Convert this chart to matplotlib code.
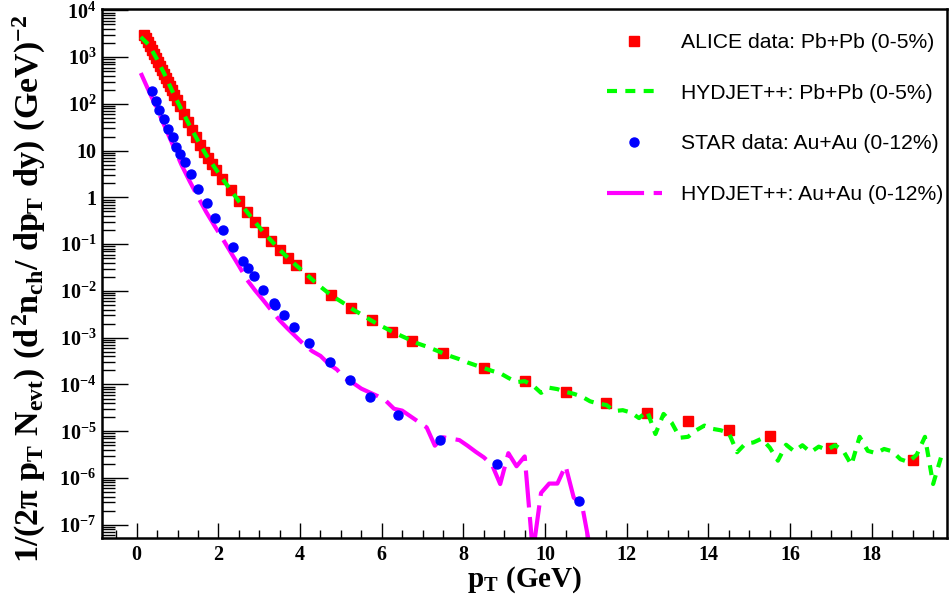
import numpy as np
import matplotlib
matplotlib.use("Agg")
import matplotlib.pyplot as plt
from matplotlib.ticker import LogLocator, MultipleLocator, FuncFormatter, FixedLocator

plt.rcParams["font.family"] = "Liberation Serif"
plt.rcParams["font.weight"] = "bold"
plt.rcParams["mathtext.fontset"] = "custom"
plt.rcParams["mathtext.rm"] = "Liberation Serif:bold"
plt.rcParams["mathtext.it"] = "Liberation Serif:bold"
plt.rcParams["mathtext.bf"] = "Liberation Serif:bold"

# ALICE Pb+Pb (0-5%) data, pT bin centres (GeV) and log10 of the yield
alice_pt = [0.175, 0.225, 0.275, 0.325, 0.375, 0.425, 0.475, 0.525, 0.575,
            0.625, 0.675, 0.725, 0.775, 0.825, 0.875, 0.925, 0.975,
            1.05, 1.15, 1.25, 1.35, 1.45, 1.55, 1.65, 1.75, 1.85, 1.95,
            2.1, 2.3, 2.5, 2.7, 2.9, 3.1, 3.3, 3.5, 3.7, 3.9,
            4.25, 4.75, 5.25, 5.75, 6.25, 6.75,
            7.5, 8.5, 9.5, 10.5, 11.5, 12.5, 13.5, 14.5, 15.5, 17.0, 19.0]
alice_log10 = [3.47, 3.40, 3.32, 3.24, 3.16, 3.07, 2.99, 2.90, 2.82,
               2.73, 2.64, 2.55, 2.47, 2.38, 2.29, 2.20, 2.09,
               1.96, 1.79, 1.62, 1.45, 1.29, 1.13, 0.98, 0.84, 0.71, 0.59,
               0.40, 0.16, -0.08, -0.31, -0.53, -0.74, -0.93, -1.12, -1.29, -1.45,
               -1.73, -2.08, -2.37, -2.63, -2.87, -3.07,
               -3.33, -3.65, -3.92, -4.17, -4.39, -4.62, -4.79, -4.97, -5.11, -5.36, -5.61]

# STAR Au+Au (0-12%) data
star_pt = [0.37, 0.47, 0.55, 0.67, 0.77, 0.88, 0.96, 1.06, 1.18, 1.32,
           1.51, 1.71, 1.92, 2.12, 2.35, 2.61, 2.73, 2.86, 3.10, 3.35,
           3.39, 3.61, 3.86, 4.23, 4.74, 5.22, 5.72, 6.40, 7.43, 8.81, 10.84]
star_log10 = [2.28, 2.07, 1.87, 1.67, 1.47, 1.29, 1.08, 0.92, 0.75, 0.51,
              0.17, -0.13, -0.43, -0.70, -1.05, -1.37, -1.51, -1.69, -1.97, -2.25,
              -2.31, -2.52, -2.78, -3.12, -3.52, -3.90, -4.27, -4.66, -5.18, -5.70, -6.49]

# HYDJET++ histograms, 0.2 GeV bins
hyd_pb_pt = np.round(np.arange(100) * 0.2 + 0.1, 2)
hyd_pb_log10 = [3.43, 3.26, 2.95, 2.60, 2.22, 1.87, 1.53, 1.21, 0.91, 0.65,
                0.40, 0.16, -0.08, -0.31, -0.53, -0.74, -0.93, -1.12, -1.29, -1.45,
                -1.60, -1.76, -1.91, -2.05, -2.17, -2.28, -2.40, -2.50, -2.61, -2.71,
                -2.80, -2.89, -2.97, -3.05, -3.13, -3.19, -3.26, -3.33, -3.40, -3.46,
                -3.53, -3.59, -3.65, -3.71, -3.76, -3.86, -3.95, -3.93, -4.02, -4.18,
                -4.07, -4.10, -4.16, -4.20, -4.26, -4.36, -4.41, -4.44, -4.57, -4.55,
                -4.60, -4.72, -4.57, -5.06, -4.63, -4.82, -5.14, -5.12, -4.98, -4.88,
                -4.95, -4.98, -5.04, -5.45, -5.27, -5.24, -5.16, -5.35, -5.63, -5.29,
                -5.43, -5.30, -5.45, -5.33, -5.40, -5.30, -5.42, -5.72, -5.12, -5.42,
                -5.47, -5.38, -5.43, -5.60, -5.66, -5.50, -5.12, -6.13, -5.54, -5.62]

hyd_au_pt = np.round(np.arange(56) * 0.2 + 0.1, 2)
hyd_au_log10 = [2.66, 2.27, 1.89, 1.49, 1.09, 0.69, 0.34, 0.01, -0.31, -0.60,
                -0.88, -1.17, -1.46, -1.76, -1.99, -2.20, -2.42, -2.63, -2.81, -2.98,
                -3.15, -3.29, -3.39, -3.56, -3.68, -3.87, -3.97, -4.09, -4.17, -4.25,
                -4.35, -4.52, -4.56, -4.68, -4.80, -4.92, -5.31, -5.13, -5.16, -5.19,
                -5.31, -5.44, -5.56, -5.72, -6.13, -5.47, -5.75, -5.54, -7.60, -6.32,
                -6.12, -6.12, -5.74, -6.42, -6.56, -7.50]

labels = ["ALICE data: Pb+Pb (0-5%)", "HYDJET++: Pb+Pb (0-5%)",
          "STAR data: Au+Au (0-12%)", "HYDJET++: Au+Au (0-12%)"]
y_decades = list(range(-7, 5))

fig = plt.figure(figsize=(9.49, 6.06), dpi=100)
ax = fig.add_axes([102 / 949, 1 - 538 / 606, 845 / 949, 529 / 606])

h_alice, = ax.plot(alice_pt, 10.0 ** np.array(alice_log10), "s", color="#ff0000",
                   ms=6.5, mec="#ff0000", zorder=2)
h_pb, = ax.plot(hyd_pb_pt, 10.0 ** np.array(hyd_pb_log10), color="#00ff00",
                lw=3, dashes=(2.4, 2.0), zorder=3)
h_au, = ax.plot(hyd_au_pt, 10.0 ** np.array(hyd_au_log10), color="#ff00ff",
                lw=3, dashes=(8.9, 2.3), zorder=2.5)
h_star, = ax.plot(star_pt, 10.0 ** np.array(star_log10), "o", color="#0000ff",
                  ms=6.5, mec="#0000ff", zorder=4)

ax.set_yscale("log")
ax.set_xlim(-0.85, 19.84)
ax.set_ylim(5.2e-8, 1.07e4)


def yfmt(v, pos):
    e = int(round(np.log10(v)))
    if e == 0:
        return "1"
    if e == 1:
        return "10"
    return r"$10^{%d}$" % e


ax.yaxis.set_major_locator(FixedLocator([10.0 ** e for e in y_decades]))
ax.yaxis.set_minor_locator(FixedLocator([m * 10.0 ** e for e in range(-8, 5)
                                         for m in range(2, 10)
                                         if 5.2e-8 < m * 10.0 ** e < 1.07e4]))
ax.yaxis.set_major_formatter(FuncFormatter(yfmt))
ax.yaxis.set_minor_formatter(FuncFormatter(lambda v, p: ""))
ax.xaxis.set_major_locator(MultipleLocator(2))
ax.xaxis.set_minor_locator(MultipleLocator(0.5))

ax.tick_params(axis="both", which="both", direction="in", top=False, right=False,
               labelsize=14.5, width=1)
ax.tick_params(axis="y", which="major", length=19, pad=4)
ax.tick_params(axis="y", which="minor", length=9.5)
ax.tick_params(axis="x", which="major", length=11, pad=5)
ax.tick_params(axis="x", which="minor", length=5.5)
for s in ax.spines.values():
    s.set_linewidth(1.8)

ax.set_xlabel(r"$p_{T}\ (GeV)$", fontsize=21)
ax.xaxis.set_label_coords(0.5, -0.05)
ax.set_ylabel(r"$1/(2\pi\ p_{T}\ N_{evt})\ (d^{2}n_{ch}/\ dp_{T}\ dy)\ (GeV)^{-2}$",
              fontsize=24.5)
ax.yaxis.set_label_coords(-0.064, 0.471)

ax.legend([h_alice, h_pb, h_star, h_au], labels, loc="upper left",
          bbox_to_anchor=(607 / 949, 1 - 33 / 606), bbox_transform=fig.transFigure,
          frameon=False, borderpad=0, borderaxespad=0, numpoints=1,
          handlelength=2.6, handletextpad=0.9, labelspacing=1.5,
          prop={"family": "Liberation Sans", "weight": "normal", "size": 15.2})

fig.savefig("out.png", dpi=100)
